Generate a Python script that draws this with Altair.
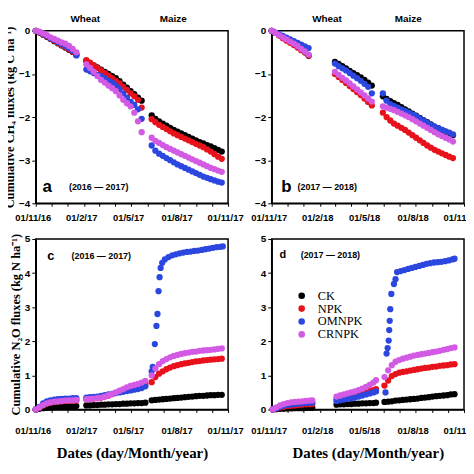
import altair as alt
import pandas as pd

SERIES = ["CK", "NPK", "OMNPK", "CRNPK"]
COLORS = ["#000000", "#e8121c", "#2c47df", "#d35ae4"]

# ---------- Panel a: cumulative CH4 (2016-2017), days after 1 Nov 2016
a_days = [0, 7, 14, 21, 28, 35, 42, 49, 56, 63, 70, 77,
          96, 103, 110, 117, 124, 131, 138, 145, 152, 159, 166, 173, 180, 187, 194, 201,
          220, 227, 234, 241, 248, 255, 262, 269, 276, 283, 290, 297, 304, 311, 318, 325, 332, 339, 346, 353]
a_ck = [0, -0.04, -0.09, -0.14, -0.19, -0.24, -0.29, -0.34, -0.39, -0.44, -0.49, -0.56,
        -0.70, -0.75, -0.80, -0.85, -0.90, -0.95, -1.00, -1.05, -1.10, -1.17, -1.25, -1.32, -1.40, -1.47, -1.55, -1.62,
        -1.96, -2.04, -2.10, -2.15, -2.20, -2.25, -2.30, -2.34, -2.38, -2.42, -2.46, -2.50, -2.54, -2.58, -2.61, -2.65, -2.68, -2.72, -2.76, -2.80]
a_npk = [0, -0.04, -0.08, -0.13, -0.18, -0.23, -0.28, -0.33, -0.38, -0.43, -0.48, -0.54,
         -0.68, -0.74, -0.80, -0.86, -0.92, -0.98, -1.04, -1.10, -1.16, -1.22, -1.30, -1.37, -1.45, -1.52, -1.60, -1.78,
         -2.05, -2.12, -2.18, -2.23, -2.28, -2.33, -2.38, -2.42, -2.46, -2.50, -2.54, -2.58, -2.62, -2.66, -2.70, -2.75, -2.80, -2.86, -2.92, -2.97]
a_om = [0, -0.03, -0.07, -0.12, -0.17, -0.21, -0.26, -0.30, -0.35, -0.40, -0.46, -0.57,
        -0.90, -0.94, -0.98, -1.02, -1.05, -1.10, -1.16, -1.20, -1.27, -1.35, -1.45, -1.55, -1.65, -1.72, -1.82, -2.04,
        -2.66, -2.78, -2.85, -2.90, -2.95, -3.00, -3.05, -3.10, -3.14, -3.18, -3.22, -3.26, -3.30, -3.34, -3.38, -3.41, -3.44, -3.47, -3.50, -3.52]
a_cr = [0, -0.02, -0.06, -0.10, -0.15, -0.19, -0.23, -0.27, -0.30, -0.35, -0.42, -0.50,
        -0.78, -0.86, -0.95, -1.05, -1.14, -1.20, -1.27, -1.33, -1.40, -1.50, -1.60, -1.68, -1.75, -1.90, -2.10, -2.35,
        -2.48, -2.55, -2.60, -2.65, -2.70, -2.74, -2.78, -2.82, -2.86, -2.90, -2.94, -2.98, -3.02, -3.06, -3.10, -3.14, -3.18, -3.21, -3.24, -3.27]

# ---------- Panel b: cumulative CH4 (2017-2018), days after 1 Nov 2017
b_days = [0, 7, 14, 21, 28, 35, 42, 49, 56, 63, 70,
          120, 127, 134, 141, 148, 155, 162, 169, 176, 183, 190,
          211, 218, 225, 232, 239, 246, 253, 260, 267, 274, 281, 288, 295, 302, 309, 316, 323, 330, 337, 344]
b_ck = [0, -0.05, -0.10, -0.15, -0.20, -0.25, -0.30, -0.36, -0.43, -0.50, -0.58,
        -0.72, -0.77, -0.82, -0.87, -0.93, -0.98, -1.03, -1.08, -1.14, -1.20, -1.27,
        -1.52, -1.58, -1.63, -1.68, -1.72, -1.77, -1.82, -1.87, -1.92, -1.97, -2.02, -2.07, -2.12, -2.17, -2.22, -2.26, -2.30, -2.34, -2.38, -2.42]
b_npk = [0, -0.05, -0.11, -0.17, -0.23, -0.28, -0.33, -0.39, -0.45, -0.50, -0.57,
         -1.00, -1.07, -1.14, -1.21, -1.28, -1.35, -1.42, -1.49, -1.57, -1.65, -1.73,
         -1.90, -2.00, -2.08, -2.15, -2.20, -2.25, -2.30, -2.36, -2.42, -2.48, -2.54, -2.60, -2.66, -2.71, -2.76, -2.80, -2.84, -2.88, -2.92, -2.95]
b_om = [0, -0.04, -0.08, -0.12, -0.16, -0.20, -0.24, -0.28, -0.32, -0.36, -0.40,
        -0.76, -0.82, -0.87, -0.92, -0.98, -1.04, -1.10, -1.16, -1.23, -1.30, -1.45,
        -1.45, -1.62, -1.70, -1.74, -1.78, -1.82, -1.86, -1.90, -1.94, -1.98, -2.03, -2.08, -2.13, -2.18, -2.22, -2.26, -2.30, -2.33, -2.36, -2.40]
b_cr = [0, -0.05, -0.10, -0.15, -0.20, -0.25, -0.30, -0.35, -0.42, -0.48, -0.55,
        -0.95, -1.02, -1.09, -1.15, -1.22, -1.29, -1.36, -1.43, -1.50, -1.57, -1.64,
        -1.75, -1.78, -1.81, -1.84, -1.88, -1.92, -1.96, -2.00, -2.05, -2.10, -2.15, -2.20, -2.25, -2.30, -2.35, -2.40, -2.44, -2.48, -2.52, -2.57]

# ---------- Panel c: cumulative N2O (2016-2017)
c_days = [0, 7, 14, 21, 28, 35, 42, 49, 56, 63, 70, 77,
          96, 103, 110, 117, 124, 131, 138, 145, 152, 159, 166, 173, 180, 187, 194, 201, 208,
          220, 227, 234, 241, 248, 255, 262, 269, 276, 283, 290, 297, 304, 311, 318, 325, 332, 339, 346, 353]
c_ck = [0, 0.02, 0.04, 0.05, 0.06, 0.07, 0.07, 0.08, 0.08, 0.09, 0.09, 0.10,
        0.12, 0.12, 0.13, 0.13, 0.14, 0.14, 0.15, 0.15, 0.16, 0.16, 0.17, 0.17, 0.18, 0.18, 0.19, 0.19, 0.20,
        0.27, 0.28, 0.29, 0.30, 0.31, 0.32, 0.33, 0.34, 0.35, 0.36, 0.37, 0.38, 0.39, 0.40, 0.40, 0.41, 0.42, 0.42, 0.43, 0.43]
c_npk = [0, 0.05, 0.12, 0.17, 0.20, 0.22, 0.23, 0.24, 0.25, 0.25, 0.26, 0.26,
         0.30, 0.31, 0.32, 0.33, 0.35, 0.38, 0.41, 0.45, 0.49, 0.53, 0.57, 0.61, 0.64, 0.67, 0.70, 0.72, 0.75,
         0.80, 0.95, 1.05, 1.12, 1.18, 1.23, 1.27, 1.30, 1.33, 1.35, 1.37, 1.39, 1.41, 1.42, 1.44, 1.45, 1.46, 1.47, 1.48, 1.49]
c_cr = [0, 0.06, 0.13, 0.18, 0.21, 0.23, 0.24, 0.25, 0.26, 0.27, 0.27, 0.28,
        0.30, 0.31, 0.32, 0.33, 0.35, 0.38, 0.42, 0.46, 0.50, 0.55, 0.60, 0.65, 0.69, 0.72, 0.75, 0.79, 0.84,
        1.00, 1.20, 1.33, 1.42, 1.48, 1.53, 1.57, 1.60, 1.63, 1.65, 1.67, 1.69, 1.70, 1.72, 1.73, 1.74, 1.75, 1.76, 1.78, 1.79]
c_om_days = [0, 7, 14, 21, 28, 35, 42, 49, 56, 63, 70, 77,
             96, 103, 110, 117, 124, 131, 138, 145, 152, 159, 166, 173, 180, 187, 194, 201, 208,
             220, 222, 226, 229, 231, 233, 235, 237, 240,
             245, 252, 259, 266, 273, 280, 287, 294, 301, 308, 315, 322, 329, 336, 343, 350, 355]
c_om = [0, 0.08, 0.18, 0.24, 0.27, 0.29, 0.30, 0.31, 0.32, 0.32, 0.33, 0.33,
        0.35, 0.36, 0.37, 0.38, 0.40, 0.42, 0.44, 0.46, 0.48, 0.50, 0.52, 0.54, 0.56, 0.58, 0.60, 0.63, 0.68,
        1.12, 1.25, 1.92, 2.45, 2.80, 3.47, 3.88, 4.15, 4.30,
        4.40, 4.47, 4.52, 4.55, 4.58, 4.60, 4.62, 4.63, 4.65, 4.66, 4.68, 4.70, 4.72, 4.74, 4.76, 4.77, 4.78]

# ---------- Panel d: cumulative N2O (2017-2018)
d_days = [2, 9, 16, 23, 30, 37, 44, 51, 58, 65, 72, 77,
          123, 130, 137, 144, 151, 158, 165, 172, 179, 186, 193, 198,
          214, 221, 228, 235, 242, 249, 256, 263, 270, 277, 284, 291, 298, 305, 312, 319, 326, 333, 340, 347]
d_ck = [0, 0.01, 0.02, 0.02, 0.03, 0.03, 0.04, 0.04, 0.04, 0.05, 0.05, 0.05,
        0.14, 0.15, 0.15, 0.16, 0.16, 0.17, 0.17, 0.18, 0.18, 0.19, 0.19, 0.20,
        0.22, 0.23, 0.24, 0.26, 0.27, 0.28, 0.29, 0.30, 0.31, 0.32, 0.34, 0.35, 0.36, 0.38, 0.39, 0.40, 0.41, 0.42, 0.44, 0.45]
d_npk = [0, 0.03, 0.06, 0.08, 0.10, 0.11, 0.12, 0.13, 0.14, 0.15, 0.15, 0.16,
         0.30, 0.32, 0.34, 0.36, 0.38, 0.40, 0.43, 0.46, 0.50, 0.54, 0.57, 0.60,
         0.70, 0.85, 0.98, 1.04, 1.08, 1.10, 1.12, 1.14, 1.16, 1.18, 1.20, 1.22, 1.23, 1.25, 1.26, 1.28, 1.29, 1.30, 1.32, 1.33]
d_cr = [0, 0.06, 0.12, 0.16, 0.19, 0.21, 0.22, 0.23, 0.24, 0.25, 0.26, 0.27,
        0.38, 0.41, 0.44, 0.47, 0.50, 0.53, 0.57, 0.61, 0.66, 0.72, 0.79, 0.86,
        0.95, 1.15, 1.30, 1.40, 1.45, 1.49, 1.52, 1.55, 1.58, 1.60, 1.62, 1.64, 1.66, 1.68, 1.70, 1.72, 1.75, 1.77, 1.80, 1.82]
d_om_days = [2, 9, 16, 23, 30, 37, 44, 51, 58, 65, 72, 77,
             123, 130, 137, 144, 151, 158, 165, 172, 179, 186, 193, 198,
             216, 218, 220, 222, 223, 224, 225, 227, 232, 235, 238,
             245, 252, 259, 266, 273, 280, 287, 294, 301, 308, 315, 322, 329, 336, 343, 347]
d_om = [0, 0.04, 0.08, 0.11, 0.13, 0.15, 0.16, 0.17, 0.18, 0.19, 0.20, 0.20,
        0.25, 0.27, 0.29, 0.31, 0.33, 0.35, 0.38, 0.41, 0.44, 0.47, 0.50, 0.53,
        0.50, 1.64, 1.80, 2.02, 2.33, 2.60, 2.94, 3.39, 3.68, 3.82, 4.03,
        4.06, 4.09, 4.12, 4.15, 4.18, 4.21, 4.24, 4.27, 4.29, 4.31, 4.32, 4.33, 4.35, 4.37, 4.40, 4.42]

# ---------- annotations
crops = ["Wheat", "Maize"]
crop_days_a = [94, 261]
crop_days_b = [105, 259]


def iso(start, d):
    return (pd.Timestamp(start) + pd.Timedelta(days=d)).strftime("%Y-%m-%dT00:00:00Z")


def build(start, days_list, vals_list):
    recs = []
    for s, days, vals in zip(SERIES, days_list, vals_list):
        for d, v in zip(days, vals):
            recs.append({"date": iso(start, d), "value": v, "series": s})
    return pd.DataFrame(recs)


LABEL_FONT = "Liberation Sans"
SERIF = "Liberation Serif"
W = 194


def panel(df, start_year, ydom, yvals, ytitle, xtitle, letter, letter_size, letter_pos,
          years, years_pos, crop_days, legend, height, xlabpad):
    start = f"{start_year}-11-01"
    months = [alt.DateTime(year=start_year if m >= 11 else start_year + 1, month=m, date=1, utc=True)
              for m in [11, 12, 1, 2, 3, 4, 5, 6, 7, 8, 9, 10]]
    months.append(alt.DateTime(year=start_year + 1, month=11, date=1, utc=True))
    xscale = alt.Scale(type="utc", domain=[months[0], months[-1]])
    xaxis = alt.Axis(values=months,
                     labelExpr="utcmonth(datum.value) % 3 == 1 ? utcFormat(datum.value, '%d/%-m/%y') : ''",
                     labelFlush=False, labelOverlap=False, labelOffset=-3, tickSize=3,
                     labelFontSize=9.5, labelPadding=xlabpad,
                     title=xtitle, titleFont=SERIF, titleFontSize=15, titleFontWeight="bold",
                     titlePadding=11)
    yaxis = alt.Axis(values=yvals, title=ytitle, titleFont=SERIF, titleFontSize=12.5,
                     titleFontWeight="bold", titlePadding=2, tickSize=4, labelPadding=2,
                     labelOverlap=False)
    x = alt.X("date:T", scale=xscale, axis=xaxis)
    y = alt.Y("value:Q", scale=alt.Scale(domain=ydom, nice=False, zero=False), axis=yaxis)

    pts = alt.Chart(df).mark_circle(size=40, opacity=1).encode(
        x=x, y=y,
        color=alt.Color("series:N", scale=alt.Scale(domain=SERIES, range=COLORS), legend=legend),
    )
    layers = [pts]

    lab_df = pd.DataFrame({"date": [iso(start, letter_pos[0])], "value": [letter_pos[1]], "t": [letter]})
    layers.append(alt.Chart(lab_df).mark_text(font=LABEL_FONT, fontWeight="bold", fontSize=letter_size,
                                              align="left", baseline="middle", color="black")
                  .encode(x=x, y=y, text="t:N"))
    yr_df = pd.DataFrame({"date": [iso(start, years_pos[0])], "value": [years_pos[1]], "t": [years]})
    layers.append(alt.Chart(yr_df).mark_text(font=LABEL_FONT, fontWeight="bold", fontSize=9,
                                             align="left", baseline="middle", color="black")
                  .encode(x=x, y=y, text="t:N"))
    if crop_days is not None:
        cdf = pd.DataFrame({"date": [iso(start, d) for d in crop_days], "t": crops})
        layers.append(alt.Chart(cdf).mark_text(font=LABEL_FONT, fontWeight="bold", fontSize=10,
                                               align="center", baseline="middle", color="black")
                      .encode(x=x, y=alt.value(-12), text="t:N"))
    return alt.layer(*layers).properties(width=W, height=height)


dfa = build("2016-11-01", [a_days] * 4, [a_ck, a_npk, a_om, a_cr])
dfb = build("2017-11-01", [b_days] * 4, [b_ck, b_npk, b_om, b_cr])
dfc = build("2016-11-01", [c_days, c_days, c_om_days, c_days], [c_ck, c_npk, c_om, c_cr])
dfd = build("2017-11-01", [d_days, d_days, d_om_days, d_days], [d_ck, d_npk, d_om, d_cr])

ch4_title = "Cumulative CH\u2084 fluxes (kg C ha\u207b\u00b9)"
n2o_title = "Cumulative N\u2082O fluxes (kg N ha\u207b\u00b9)"
xt = "Dates (day/Month/year)"

legend_d = alt.Legend(orient="none", legendX=24, legendY=51, title=None, labelFont=SERIF,
                      labelFontSize=12.5, labelFontWeight="normal", symbolType="circle", symbolSize=44,
                      symbolStrokeWidth=0, rowPadding=0, padding=0, labelOffset=10)

pa = panel(dfa, 2016, [-4, 0], [-4, -3, -2, -1, 0], ch4_title, None, "a", 17, (13, -3.63),
           "(2016 \u2014 2017)", (63, -3.63), crop_days_a, None, 174, 6)
pb = panel(dfb, 2017, [-4, 0], [-4, -3, -2, -1, 0], None, None, "b", 17, (18, -3.63),
           "(2017 \u2014 2018)", (49, -3.63), crop_days_b, None, 174, 6)
pc = panel(dfc, 2016, [0, 5], [0, 1, 2, 3, 4, 5], n2o_title, xt, "c", 13, (22, 4.5),
           "(2016 \u2014 2017)", (68, 4.5), None, None, 172, 13)
pd_ = panel(dfd, 2017, [0, 5], [0, 1, 2, 3, 4, 5], None, xt, "d", 11, (15, 4.54),
            "(2017 \u2014 2018)", (55, 4.54), None, legend_d, 172, 13)

chart = alt.concat(pa, pb, pc, pd_, columns=2, spacing={"row": 36, "column": 44}, bounds="flush") \
    .resolve_scale(color="independent").resolve_legend(color="independent") \
    .properties(padding={"left": -6, "top": 3, "right": -14, "bottom": 1}, background="white") \
    .configure_view(stroke="black", strokeWidth=1.5) \
    .configure_axis(grid=False, domainColor="black", domainWidth=1.5, tickColor="black",
                    labelColor="black", titleColor="black", labelFont=LABEL_FONT,
                    labelFontWeight="bold", labelFontSize=10)

chart.save("out.html", embed_options={"renderer": "svg", "actions": False})
